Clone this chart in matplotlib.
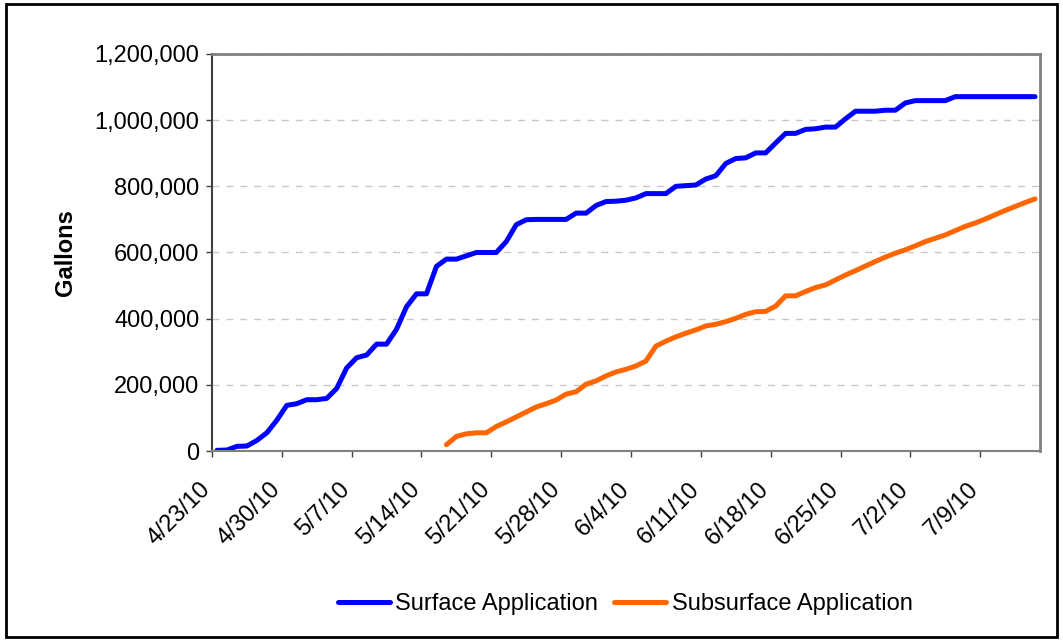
import matplotlib.pyplot as plt
import matplotlib.ticker as mticker
import matplotlib.transforms as mtrans
from matplotlib.patches import Rectangle
import numpy as np
import pandas as pd

"""
data (cumulative gallons, one value per day)
"""
start = pd.Timestamp("2010-04-23")
surface = [2000, 3000, 14000, 15000, 32000, 55000, 93000, 138000, 143000, 155000,
           155000, 159000, 189000, 251000, 282000, 290000, 323000, 323000, 368000, 436000,
           475000, 475000, 558000, 580000, 580000, 590000, 600000, 600000, 600000, 633000,
           684000, 699000, 700000, 700000, 700000, 700000, 719000, 719000, 742000, 754000,
           755000, 758000, 765000, 778000, 778000, 778000, 800000, 802000, 804000, 822000,
           832000, 869000, 884000, 886000, 901000, 901000, 931000, 960000, 960000, 972000,
           974000, 979000, 979000, 1004000, 1027000, 1027000, 1027000, 1030000, 1030000, 1052000,
           1059000, 1059000, 1059000, 1059000, 1071000, 1071000, 1071000, 1071000, 1071000, 1071000,
           1071000, 1071000, 1071000]
sub_start = pd.Timestamp("2010-05-16")
subsurface = [19000, 44000, 52000, 55000, 55000, 74000, 88000, 103000, 118000, 133000,
              143000, 154000, 172000, 179000, 202000, 212000, 227000, 239000, 247000, 257000,
              272000, 317000, 332000, 345000, 356000, 366000, 378000, 383000, 391000, 401000,
              413000, 421000, 422000, 438000, 469000, 469000, 482000, 494000, 502000, 517000,
              532000, 545000, 559000, 573000, 586000, 598000, 608000, 620000, 633000, 643000,
              653000, 666000, 679000, 689000, 701000, 714000, 727000, 739000, 751000, 762000]

surf_dates = pd.date_range(start, periods=len(surface), freq="D")
sub_dates = pd.date_range(sub_start, periods=len(subsurface), freq="D")
tick_dates = pd.date_range(start, "2010-07-09", freq="7D")
tick_labels = [f"{d.month}/{d.day}/{d.year % 100:02d}" for d in tick_dates]

plt.rcParams['font.family'] = ['Liberation Sans', 'DejaVu Sans']
fs = 17

"""
figure
"""
fig = plt.figure(figsize=(10.63, 6.41), dpi=100)
ax = fig.add_axes([0.1994, 0.2964, 0.7790, 0.6194])

# points sit in the middle of each day
half = pd.Timedelta(hours=12)
ax.plot(surf_dates + half, surface, color='#0000FF', lw=3.6, label='Surface Application',
        solid_capstyle='round', solid_joinstyle='round')
ax.plot(sub_dates + half, subsurface, color='#FF6600', lw=3.6, label='Subsurface Application',
        solid_capstyle='round', solid_joinstyle='round')

ax.set_xlim(start, surf_dates[-1] + pd.Timedelta(days=1))
ax.set_ylim(0, 1200000)
ax.set_xticks(tick_dates)
ax.set_xticklabels(tick_labels, rotation=45, ha='right', va='center',
                   rotation_mode='anchor', fontsize=fs)
ax.set_yticks(np.arange(0, 1200001, 200000))
ax.yaxis.set_major_formatter(mticker.FuncFormatter(lambda v, p: f"{int(v):,}"))
ax.tick_params(axis='y', labelsize=fs, length=4, width=1, color='#404040', pad=5)
ax.tick_params(axis='x', length=4, width=1, color='#404040', pad=21)

# nudge rotated labels a little to the left, like the original
shift = mtrans.ScaledTranslation(-5 / 100, 0, fig.dpi_scale_trans)
for lab in ax.get_xticklabels():
    lab.set_transform(lab.get_transform() + shift)

ax.grid(axis='y', ls=(0, (5, 5)), color='#C8C8C8', lw=1)
ax.set_axisbelow(True)

for s in ['top', 'right']:
    ax.spines[s].set_color('#808080')
    ax.spines[s].set_linewidth(2)
ax.spines['left'].set_color('#404040')
ax.spines['left'].set_linewidth(1.5)
ax.spines['bottom'].set_color('#808080')
ax.spines['bottom'].set_linewidth(1.5)

ax.set_ylabel('Gallons', fontsize=fs, fontweight='bold', labelpad=13)

fig.legend(loc='center', bbox_to_anchor=(0.588, 0.058), ncol=2, frameon=False,
           fontsize=fs, handlelength=2.2, handletextpad=0.25, columnspacing=0.65)

# outer chart border
fig.patches.append(Rectangle((0.006, 0.006), 0.988, 0.988, transform=fig.transFigure,
                             fill=False, ec='black', lw=2))

fig.savefig('out.png', dpi=100)
